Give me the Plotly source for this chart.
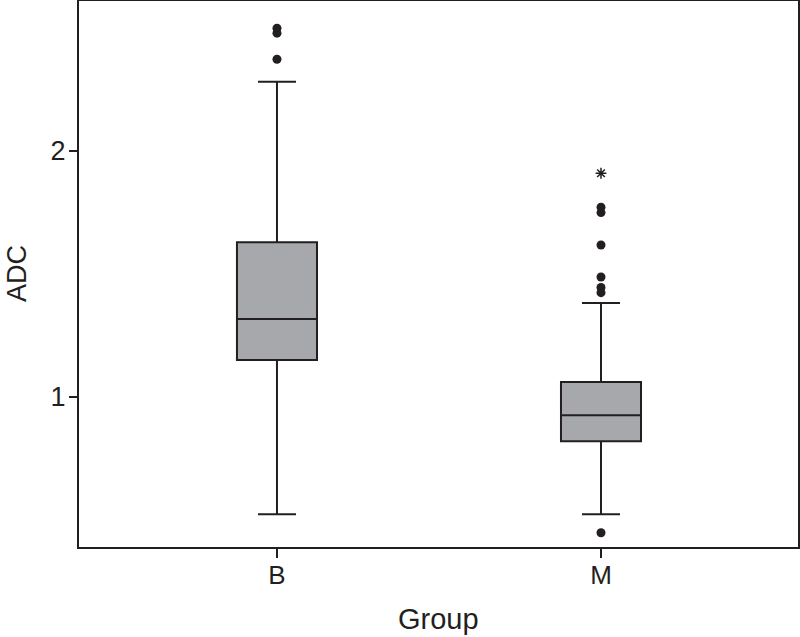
import plotly.graph_objects as go

# box statistics
groups = ["B", "M"]
q1 = [1.149, 0.818]
median = [1.316, 0.924]
q3 = [1.628, 1.059]
lowerfence = [0.521, 0.521]
upperfence = [2.281, 1.381]

# outliers (circles) and extreme value (asterisk)
b_outliers = [2.499, 2.479, 2.373]
m_outliers = [0.446, 1.423, 1.444, 1.487, 1.617, 1.749, 1.771]
m_extremes = [1.909]

ink = "#231f20"

fig = go.Figure()

fig.add_trace(go.Box(
    x=groups,
    q1=q1,
    median=median,
    q3=q3,
    lowerfence=lowerfence,
    upperfence=upperfence,
    fillcolor="#a6a8ab",
    line=dict(color=ink, width=2),
    whiskerwidth=0.475,
    width=0.247,
    boxpoints=False,
    hoverinfo="skip",
))

# outlier points
fig.add_trace(go.Scatter(
    x=["B"] * len(b_outliers) + ["M"] * len(m_outliers),
    y=b_outliers + m_outliers,
    mode="markers",
    marker=dict(symbol="circle", size=9, color=ink),
    hoverinfo="skip",
))

fig.add_trace(go.Scatter(
    x=["M"] * len(m_extremes),
    y=m_extremes,
    mode="markers",
    marker=dict(symbol="asterisk-open", size=9, color=ink,
                line=dict(color=ink, width=1.5)),
    hoverinfo="skip",
))

fig.update_layout(
    width=800,
    height=637,
    margin=dict(l=79, r=2, t=1, b=90),
    plot_bgcolor="white",
    paper_bgcolor="white",
    showlegend=False,
    font=dict(family="Liberation Sans, Arial, sans-serif", color=ink),
)

fig.update_xaxes(
    type="category",
    range=[-0.611, 1.608],
    automargin=False,
    showline=True, linecolor=ink, linewidth=2, mirror=True,
    ticks="outside", ticklen=9, tickwidth=2, tickcolor=ink,
    tickfont=dict(size=26, color=ink),
    ticklabelstandoff=-5,
    showgrid=False, zeroline=False,
)

fig.update_yaxes(
    range=[0.388, 2.61],
    tickvals=[1, 2],
    ticktext=["1", "2"],
    automargin=False,
    showline=True, linecolor=ink, linewidth=2, mirror=True,
    ticks="outside", ticklen=8, tickwidth=2, tickcolor=ink,
    tickfont=dict(size=27, color=ink),
    ticklabelstandoff=-2,
    showgrid=False, zeroline=False,
)

# axis titles
fig.add_annotation(text="Group", xref="paper", yref="paper", x=0.5, y=0,
                   xanchor="center", yanchor="top", yshift=-54,
                   showarrow=False, font=dict(size=29, color=ink))
fig.add_annotation(text="ADC", xref="paper", yref="paper", x=0, y=0.5,
                   xanchor="center", yanchor="middle", xshift=-62, textangle=-90,
                   showarrow=False, font=dict(size=27, color=ink))

# drop the page's default body margin so the figure sits at the corner
fig.write_html("out.html", config={"displayModeBar": False},
               post_script="document.body.style.margin='0';")
